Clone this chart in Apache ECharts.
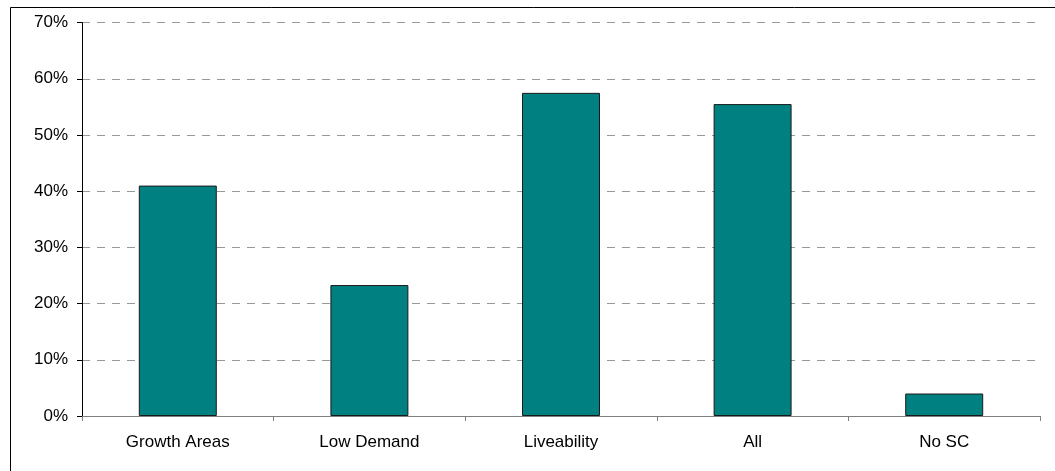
<!DOCTYPE html>
<html>
<head>
<meta charset="utf-8">
<script src="https://cdn.jsdelivr.net/npm/echarts@6/dist/echarts.min.js"></script>
<style>
  html, body { margin: 0; padding: 0; background: #fff; }
  #chart { width: 1055px; height: 471px; }
</style>
</head>
<body>
<div id="chart"></div>
<script>
// Share of respondents by area type (percent)
const categories = ['Growth Areas', 'Low Demand', 'Liveability', 'All', 'No SC'];
const shares = [41.0, 23.3, 57.5, 55.5, 4.0];
const yTicks = { min: 0, max: 70, step: 10 };

const chart = echarts.init(document.getElementById('chart'));
chart.setOption({
  animation: false,
  graphic: [{
    type: 'rect',
    shape: { x: 10.5, y: 7.5, width: 1100, height: 600 },
    style: { fill: 'none', stroke: '#000', lineWidth: 1 },
    silent: true
  }],
  grid: { left: 82, right: 15, top: 22.6, bottom: 55 },
  xAxis: {
    type: 'category',
    data: categories,
    axisLine: { lineStyle: { color: '#808080', width: 1 } },
    axisTick: { show: true, length: 5, alignWithLabel: false, lineStyle: { color: '#808080' } },
    axisLabel: { color: '#000', fontFamily: 'Liberation Sans, Arial', fontSize: 17, margin: 18 }
  },
  yAxis: {
    type: 'value',
    min: yTicks.min, max: yTicks.max, interval: yTicks.step,
    axisLine: { show: true, lineStyle: { color: '#000', width: 1 } },
    axisTick: { show: true, length: 5, lineStyle: { color: '#000' } },
    axisLabel: { color: '#000', fontFamily: 'Liberation Sans, Arial', fontSize: 17, margin: 14, formatter: '{value}%' },
    splitLine: { show: true, lineStyle: { color: '#999', type: [8, 7], width: 1 } }
  },
  series: [{
    type: 'bar',
    data: shares,
    barWidth: '40.7%',
    itemStyle: { color: '#008080', borderColor: '#1a1a1a', borderWidth: 1 }
  }]
});
</script>
</body>
</html>
